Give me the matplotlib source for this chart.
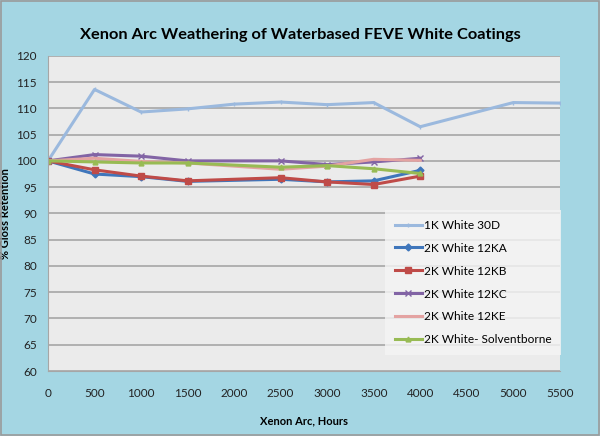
import matplotlib

matplotlib.use("Agg")
import matplotlib.pyplot as plt

plt.rcParams["font.family"] = ["Lato", "DejaVu Sans"]

hours_30d = [0, 500, 1000, 1500, 2000, 2500, 3000, 3500, 4000, 5000, 5500]
white_30d = [100, 113.6, 109.3, 109.9, 110.8, 111.2, 110.7, 111.1, 106.5, 111.1, 111.0]

hours = [0, 500, 1000, 1500, 2500, 3000, 3500, 4000]
white_12ka = [100, 97.5, 97.0, 96.1, 96.5, 96.0, 96.2, 98.2]
white_12kb = [100, 98.3, 97.1, 96.2, 96.8, 96.0, 95.5, 97.1]
white_12kc = [100, 101.2, 100.9, 100.0, 100.0, 99.3, 99.8, 100.5]
white_12ke = [100, 100.5, 99.9, 99.6, 98.4, 99.0, 100.3, 100.1]
white_solv = [100, 99.8, 99.6, 99.6, 98.8, 99.1, 98.5, 97.6]

fig = plt.figure(figsize=(6, 4.36), dpi=100, facecolor="#a4d6e3")
fig.patches.append(plt.Rectangle((0.002, 0.002), 0.996, 0.996, transform=fig.transFigure,
                                 fill=False, edgecolor="#9a9a9a", linewidth=1.2))
ax = fig.add_axes([0.08, 0.149, 0.853, 0.723])
ax.set_facecolor("#ebebeb")

ax.plot(hours_30d, white_30d, color="#9bb9de", lw=2.2, marker="|", ms=3, label="1K White 30D")
ax.plot(hours, white_12ka, color="#3f76bb", lw=2.2, marker="D", ms=3.5, label="2K White 12KA")
ax.plot(hours, white_12kb, color="#bf4b48", lw=2.2, marker="s", ms=4.5, label="2K White 12KB")
ax.plot(hours, white_12kc, color="#8264a5", lw=2.2, marker="x", ms=4, label="2K White 12KC")
ax.plot(hours, white_12ke, color="#e4a3a2", lw=2.2, label="2K White 12KE")
ax.plot(hours, white_solv, color="#98bb54", lw=2.2, marker="^", ms=3.5, label="2K White- Solventborne")

ax.set_xlim(0, 5500)
ax.set_ylim(60, 120)
ax.set_xticks(range(0, 5501, 500))
ax.set_yticks(range(60, 121, 5))
ax.tick_params(axis="y", length=0, labelsize=8.5, colors="#222222", pad=8)
ax.tick_params(axis="x", length=0, labelsize=8.5, colors="#222222", pad=12)
ax.grid(axis="y", color="#a6a6a6", lw=1.2)
ax.set_axisbelow(True)
for side in ("top", "right"):
    ax.spines[side].set_visible(False)
ax.spines["left"].set_color("#a6a6a6")
ax.spines["bottom"].set_color("#a6a6a6")

ax.set_xlabel("Xenon Arc, Hours", fontsize=8, fontweight="bold", labelpad=12)
ax.set_ylabel("% Gloss Retention", fontsize=8, fontweight="bold", labelpad=4)
fig.suptitle("Xenon Arc Weathering of Waterbased FEVE White Coatings",
             fontsize=11.8, fontweight="bold", y=0.935)

leg = fig.legend(loc="upper left", bbox_to_anchor=(0.642, 0.518), frameon=True,
                 fontsize=8.6, handlelength=2.3, handletextpad=0.15, labelspacing=1.0,
                 borderpad=0.8, borderaxespad=0.0, fancybox=False)
leg.get_frame().set_facecolor("#f5f5f5")
leg.get_frame().set_edgecolor("none")

fig.savefig("out.png", dpi=100, facecolor=fig.get_facecolor())
